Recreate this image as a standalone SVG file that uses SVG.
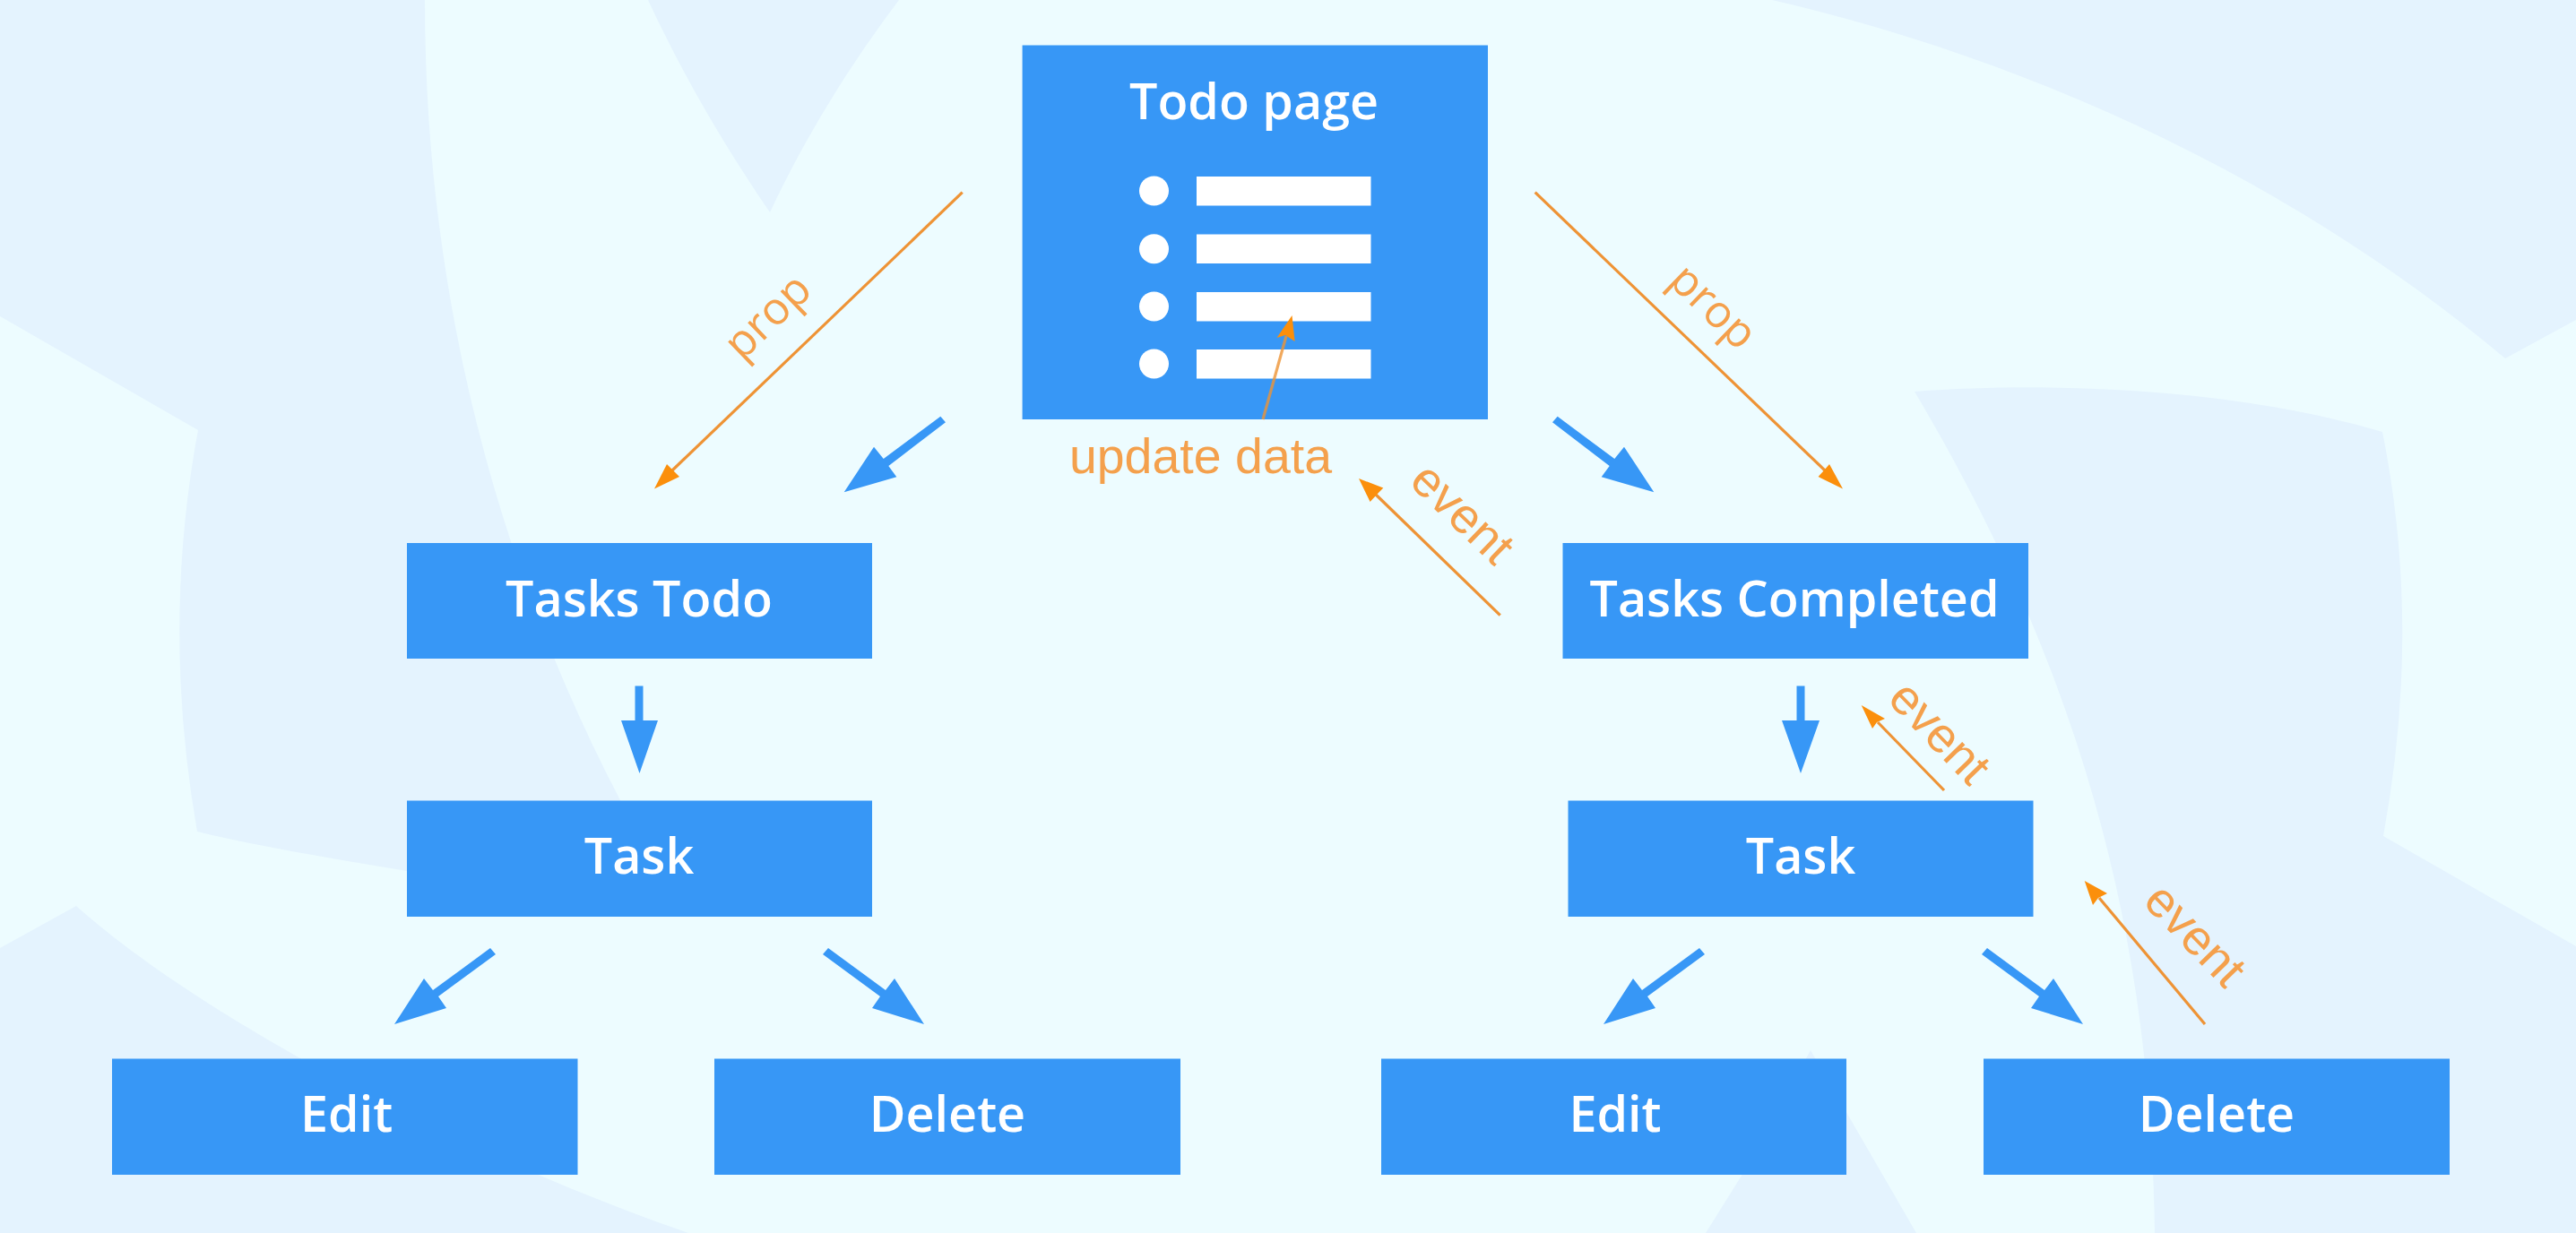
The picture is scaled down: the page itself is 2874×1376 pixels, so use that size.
<svg xmlns="http://www.w3.org/2000/svg" width="2874" height="1376" viewBox="0 0 2874 1376">
<style>
.bg{fill:#e4f3fe}
.box{fill:#3797f6}
.w{fill:#fff}
.t{font-family:"Open Sans","Noto Sans",sans-serif;font-weight:600;font-size:55.6px;fill:#fff;text-anchor:middle}
.bl{fill:#3797f6}
.ol{stroke:#ee9335;stroke-width:3.2;fill:none}
.oh{fill:#fb8f0c}
.ot{fill:#f4a04c;text-anchor:middle}
.arial{font-family:"Liberation Sans",Arial,sans-serif;font-size:55px}
.open{font-family:"Open Sans","Noto Sans",sans-serif;font-size:50px}
</style>
<rect width="2874" height="1376" fill="#edfcff"/>
<g id="background">
<path class="bg" d="M0 0H474C474 340 560 640 692 893L720 985C620 990 530 985 451 971.5C370 958 290 945 220 928Q180 700 221 480L0 353Z"/>
<path class="bg" d="M723 0C765 90 810 165 859 237C900 150 950 70 1003 0Z"/>
<path class="bg" d="M1977 0C2280 70 2570 210 2795 400L2874 357V0Z"/>
<path class="bg" d="M2136 437C2300 425 2500 435 2658 482Q2702 700 2659 933L2874 1056V1376H2404C2400 1080 2340 780 2136 437Z"/>
<polygon class="bg" points="2020,1172 1943,1312 1903,1376 2138,1376"/>
<path class="bg" d="M0 1058L85 1011C230 1140 520 1290 768 1376H0Z"/>
</g>
<g id="connectors">
<polygon class="bl" points="1049.3,464.7 985.7,512 975,498.7 941.7,549.3 1000.3,532.3 991.3,520 1055,471.3"/>
<polygon class="bl" points="1737.7,464.7 1801.3,512 1812,498.7 1845.3,549.3 1786.7,532.3 1795.7,520 1732,471.3"/>
<polygon class="bl" points="708.5,765.5 717.5,765.5 717.5,804 734,804 713.5,863 693,804 708.5,804"/>
<polygon class="bl" points="2004.5,765.5 2013.5,765.5 2013.5,804 2030,804 2009,863 1988,804 2004.5,804"/>
<polygon class="bl" points="547,1058 483,1105 473,1092 440,1143 498,1125 489,1112 553,1065"/>
<polygon class="bl" points="924,1058 988,1105 998,1092 1031,1143 973,1125 982,1112 918,1065"/>
<polygon class="bl" points="1896,1058 1832,1105 1822,1092 1789,1143 1847,1125 1838,1112 1902,1065"/>
<polygon class="bl" points="2217,1058 2281,1105 2291,1092 2324,1143 2266,1125 2275,1112 2211,1065"/>
<line class="ol" x1="1073.7" y1="214.7" x2="750" y2="525"/>
<polygon class="oh" points="730,545.5 744,518 752,526 758,532"/>
<line class="ol" x1="1712.7" y1="214.7" x2="2036" y2="525"/>
<polygon class="oh" points="2056,545.5 2041,518 2035,525 2028.6,532"/>
<line class="ol" x1="1673.7" y1="686.6" x2="1533" y2="550"/>
<polygon class="oh" points="1516,534 1543.3,544.6 1536,552 1528.6,560"/>
<line class="ol" x1="2169" y1="882" x2="2095" y2="806"/>
<polygon class="oh" points="2076.7,787 2103,802 2094,806 2089,813"/>
<line class="ol" x1="2460" y1="1143" x2="2342" y2="1002"/>
<polygon class="oh" points="2325.7,983 2351,997 2341,1002 2335,1010"/>
<text class="ot open" transform="translate(868 365) rotate(-44)">prop</text>
<text class="ot open" transform="translate(1900 354) rotate(44)">prop</text>
<text class="ot arial" x="1339.5" y="528" style="font-size:55.5px">update data</text>
<text class="ot arial" transform="translate(1619 586) rotate(44)">event</text>
<text class="ot arial" transform="translate(2151 830) rotate(46)">event</text>
<text class="ot arial" transform="translate(2436 1056) rotate(46)">event</text>
</g>
<g id="todo-page">
<rect class="box" x="1140.6" y="50.5" width="519.4" height="417.5"/>
<text class="t" x="1399" y="132.6">Todo page</text>
<circle class="w" cx="1287.5" cy="213" r="16.5"/>
<circle class="w" cx="1287.5" cy="277.7" r="16.5"/>
<circle class="w" cx="1287.5" cy="342" r="16.5"/>
<circle class="w" cx="1287.5" cy="406" r="16.5"/>
<rect class="w" x="1335" y="197" width="194.5" height="32.5"/>
<rect class="w" x="1335" y="261.5" width="194.5" height="32.5"/>
<rect class="w" x="1335" y="326" width="194.5" height="32.5"/>
<rect class="w" x="1335" y="390" width="194.5" height="32.5"/>
</g>
<g id="update-arrow">
<line class="ol" x1="1409" y1="468" x2="1435" y2="375" stroke-opacity="0.8"/>
<polygon class="oh" points="1441.5,352 1424.5,377 1434,374 1444.6,381"/>
</g>
<g id="tasks-todo"><rect class="box" x="454" y="606" width="519" height="129"/><text class="t" x="713" y="687.5">Tasks Todo</text></g>
<g id="tasks-completed"><rect class="box" x="1743.5" y="606" width="519.5" height="129"/><text class="t" x="2002" y="687.5">Tasks Completed</text></g>
<g id="task-left"><rect class="box" x="454" y="893.5" width="519" height="129.5"/><text class="t" x="713" y="975">Task</text></g>
<g id="task-right"><rect class="box" x="1749.5" y="893.5" width="519" height="129.5"/><text class="t" x="2009" y="975">Task</text></g>
<g id="edit-left"><rect class="box" x="125" y="1181.5" width="519.5" height="129.5"/><text class="t" x="386.6" y="1263">Edit</text></g>
<g id="delete-left"><rect class="box" x="797" y="1181.5" width="520" height="129.5"/><text class="t" x="1057" y="1263">Delete</text></g>
<g id="edit-right"><rect class="box" x="1541" y="1181.5" width="519" height="129.5"/><text class="t" x="1802" y="1263">Edit</text></g>
<g id="delete-right"><rect class="box" x="2213" y="1181.5" width="520" height="129.5"/><text class="t" x="2473" y="1263">Delete</text></g>
</svg>
